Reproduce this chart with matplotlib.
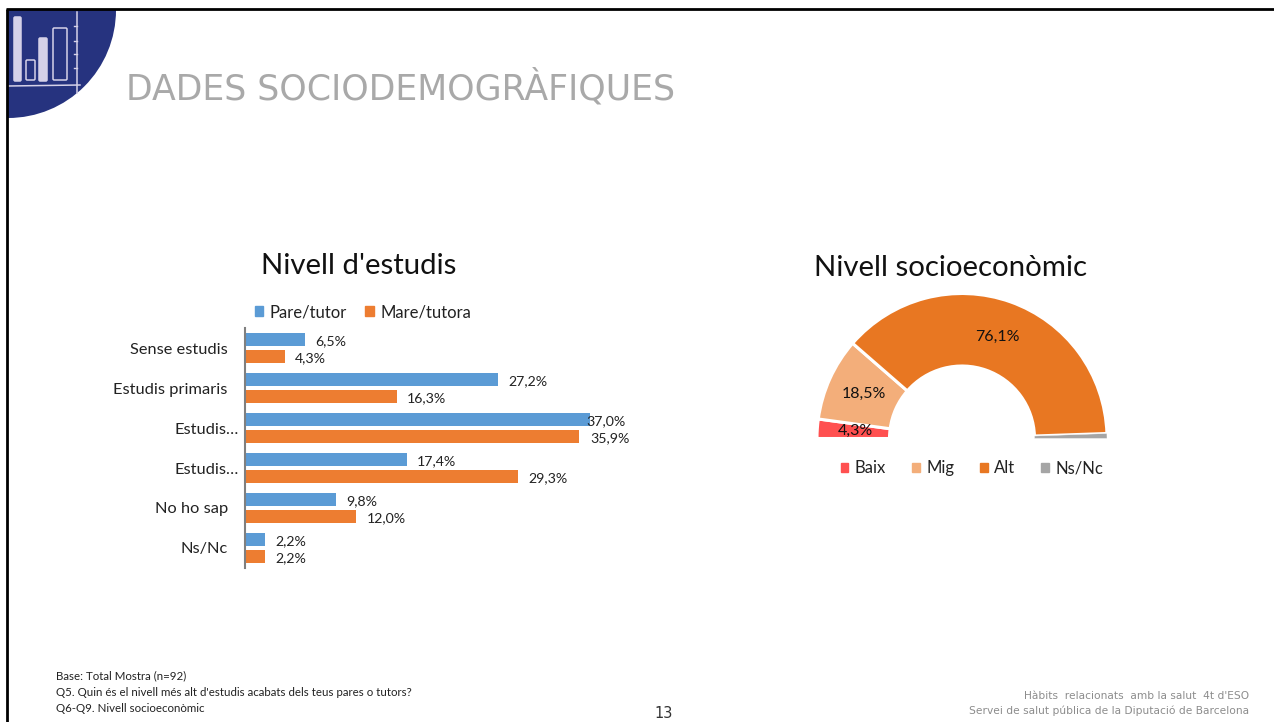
import matplotlib
matplotlib.use("Agg")
import matplotlib.pyplot as plt
from matplotlib.patches import Circle, Rectangle, FancyBboxPatch

W, H = 1274, 722
categories = ["Sense estudis", "Estudis primaris", "Estudis…", "Estudis…", "No ho sap", "Ns/Nc"]
pare = [6.5, 27.2, 37.0, 17.4, 9.8, 2.2]
mare = [4.3, 16.3, 35.9, 29.3, 12.0, 2.2]
seg_labels = ["Baix", "Mig", "Alt", "Ns/Nc"]
seg_values = [4.3, 18.5, 76.1, 1.1]
seg_colors = ["#FF5050", "#F3AE7A", "#E87722", "#A5A5A5"]
BLUE, ORANGE = "#5B9BD5", "#ED7D31"
CHART_FONT = ["Lato", "DejaVu Sans"]

fig = plt.figure(figsize=(W / 100, H / 100), dpi=100, facecolor="white")

def px_axes(x0, y0, x1, y1, **kw):
    return fig.add_axes([x0 / W, 1 - y1 / H, (x1 - x0) / W, (y1 - y0) / H], **kw)

# page furniture
bg = px_axes(0, 0, W, H)
bg.set_xlim(0, W); bg.set_ylim(H, 0); bg.axis("off")
clip = Rectangle((8, 10), W, H, transform=bg.transData)
logo = Circle((8, 10), 108, fc="#26337F", ec="none", zorder=1)
bg.add_patch(logo); logo.set_clip_path(clip)
LIGHT = "#D5D1E8"
for x, y, w, h, filled in [(14, 17, 7, 64, True), (26, 60, 9, 20, False),
                           (39, 38, 8, 43, True), (53, 28, 14, 52, False)]:
    bg.add_patch(FancyBboxPatch((x, y), w, h, boxstyle="round,pad=0,rounding_size=1.2",
                                fc=LIGHT if filled else "none", ec=LIGHT, lw=1.1, zorder=2))
bg.plot([77, 77], [12, 93], color=LIGHT, lw=1.1, zorder=2)
bg.plot([8, 80], [86, 85], color=LIGHT, lw=1.1, zorder=2)
for y in (26, 41, 54, 68):
    bg.plot([74, 77], [y, y], color=LIGHT, lw=1, zorder=2)
bg.plot([7, 7], [9, H], color="black", lw=2, zorder=3, solid_capstyle="butt")
bg.plot([6, W], [9, 9], color="black", lw=2, zorder=3, solid_capstyle="butt")

bg.text(126, 88, "DADES SOCIODEMOGRÀFIQUES", fontsize=25, color="#A9A9A9",
        family="DejaVu Sans", va="center", ha="left")
bg.text(359, 266, "Nivell d'estudis", fontsize=21.2, color="#111111", family=CHART_FONT, ha="center", va="center")
bg.text(950, 268, "Nivell socioeconòmic", fontsize=21.2, color="#111111", family=CHART_FONT, ha="center", va="center")
for y, s in [(675.5, "Base: Total Mostra (n=92)"),
             (692, "Q5. Quin és el nivell més alt d'estudis acabats dels teus pares o tutors?"),
             (708, "Q6-Q9. Nivell socioeconòmic")]:
    bg.text(56, y, s, fontsize=8.3, color="#222222", family=CHART_FONT, va="center")
bg.text(664, 714, "13", fontsize=10.5, color="#333333", family="DejaVu Sans", ha="center", va="center")
bg.text(1249, 696, "Hàbits  relacionats  amb la salut  4t d'ESO", fontsize=7.65, color="#8C8C8C",
        family="DejaVu Sans", ha="right", va="center")
bg.text(1249, 711, "Servei de salut pública de la Diputació de Barcelona", fontsize=7.65, color="#8C8C8C",
        family="DejaVu Sans", ha="right", va="center")

# bars
ax = px_axes(244.5, 328, 711, 568)
ax.patch.set_alpha(0)
ys = list(range(len(categories)))
h = 0.34
pare_bars = ax.barh([y - 0.21 for y in ys], pare, height=h, color=BLUE, label="Pare/tutor")
mare_bars = ax.barh([y + 0.21 for y in ys], mare, height=h, color=ORANGE, label="Mare/tutora")
ax.set_xlim(0, 50); ax.set_ylim(5.5, -0.5)
ax.set_yticks(ys, categories, fontsize=11.8, family=CHART_FONT, color="#222222")
ax.set_xticks([])
ax.tick_params(axis="y", length=0)
for tick, c in zip(ax.yaxis.get_major_ticks(), categories):
    tick.set_pad(4 if c.endswith("…") else 12)
for s in ("top", "right", "bottom"):
    ax.spines[s].set_visible(False)
ax.spines["left"].set_color("#7F7F7F"); ax.spines["left"].set_linewidth(1.5)
for bars, vals in ((pare_bars, pare), (mare_bars, mare)):
    for b, v in zip(bars, vals):
        off = -2.5 if v >= 37 else 7.5
        ax.annotate(f"{v:.1f}%".replace(".", ","), (v, b.get_y() + b.get_height() / 2),
                    xytext=(off, -1.2), textcoords="offset points", va="center", ha="left",
                    fontsize=10.2, family=CHART_FONT, color="#222222")
handles = [Rectangle((0, 0), 1, 1, color=BLUE), Rectangle((0, 0), 1, 1, color=ORANGE)]
leg1 = bg.legend(handles, ["Pare/tutor", "Mare/tutora"], loc="center", bbox_to_anchor=(363, 312),
                 bbox_transform=bg.transData, frameon=False, ncol=2, handlelength=0.5, handleheight=0.5,
                 handletextpad=0.4, columnspacing=1.1,
                 prop={"family": CHART_FONT, "size": 12}, labelcolor="#222222")
bg.add_artist(leg1)

# half doughnut: the lower half is an invisible wedge
R = 145
CY = 438.5
ax2 = px_axes(962 - R, CY - R, 962 + R, CY + R)
wedges, _, autotexts = ax2.pie(
    seg_values + [sum(seg_values)], colors=seg_colors + ["white"], startangle=180, counterclock=False,
    radius=1, wedgeprops=dict(width=0.5, edgecolor="white", linewidth=2.2),
    autopct=lambda p: f"{p * 2:.1f}%".replace(".", ",") if 3 < p * 2 < 90 else "",
    pctdistance=0.74, textprops=dict(fontsize=11.5, family=CHART_FONT, color="#111111"))
wedges[-1].set_visible(False)
wedges[3].set_linewidth(0.3)
ax2.set_xlim(-1, 1); ax2.set_ylim(-1, 1)
for w_ in wedges:
    w_.set_clip_on(False)
for t in autotexts:
    t.set_clip_on(False)
handles2 = [Rectangle((0, 0), 1, 1, color=c) for c in seg_colors]
bg.legend(handles2, seg_labels, loc="center", bbox_to_anchor=(972, 468),
          bbox_transform=bg.transData, frameon=False, ncol=4, handlelength=0.45, handleheight=0.45,
          handletextpad=0.4, columnspacing=1.55,
          prop={"family": CHART_FONT, "size": 12}, labelcolor="#222222")

fig.savefig("out.png", dpi=100)
